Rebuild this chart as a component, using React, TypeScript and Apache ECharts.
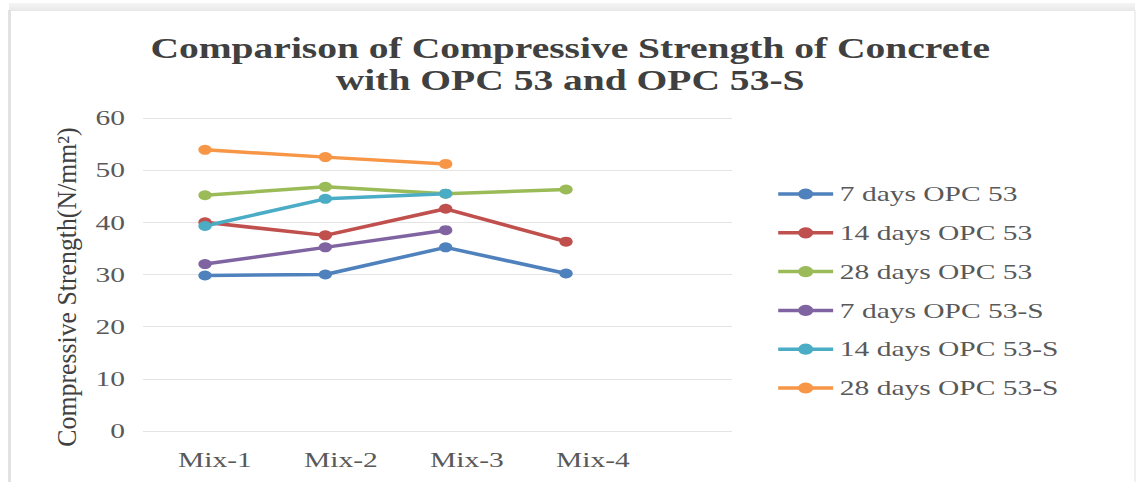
import React, { useEffect, useRef } from "react";
import * as echarts from "echarts";

// Mix designs on the category axis
const categories = ["Mix-1", "Mix-2", "Mix-3", "Mix-4"];

// Compressive strength (N/mm²) per series
const days7Opc53 = [29.8, 30.0, 35.2, 30.2];
const days14Opc53 = [40.0, 37.5, 42.6, 36.3];
const days28Opc53 = [45.2, 46.8, 45.5, 46.3];
const days7Opc53S = [32.0, 35.2, 38.5, null];
const days14Opc53S = [39.3, 44.5, 45.5, null];
const days28Opc53S = [53.9, 52.5, 51.2, null];

const seriesNames = [
  "7 days OPC 53",
  "14 days OPC 53",
  "28 days OPC 53",
  "7 days OPC 53-S",
  "14 days OPC 53-S",
  "28 days OPC 53-S",
];
const seriesValues = [days7Opc53, days14Opc53, days28Opc53, days7Opc53S, days14Opc53S, days28Opc53S];
const seriesColors = ["#4F81BD", "#C0504D", "#9BBB59", "#8064A2", "#4BACC6", "#F79646"];

// Value axis
const yMin = 0;
const yMax = 60;
const yStep = 10;

const titleText = "Comparison of Compressive Strength of Concrete\nwith OPC 53 and OPC 53-S";
const yAxisTitle = "Compressive Strength(N/mm²)";

const FONT = '"Liberation Serif", "Times New Roman", serif';
const PAGE_W = 1141;
const PAGE_H = 482;
// the whole figure is drawn horizontally widened
const SX = 1.34;
const INNER_W = PAGE_W / SX;

export default function App() {
  const ref = useRef<HTMLDivElement>(null);

  useEffect(() => {
    if (!ref.current) return;
    const chart = echarts.init(ref.current, null, { renderer: "svg" });
    const top = 118;
    const bottom = 51;
    chart.setOption({
      animation: false,
      backgroundColor: "#ffffff",
      title: {
        text: titleText,
        left: "center",
        top: 27,
        textStyle: {
          fontFamily: FONT,
          fontSize: 29.5,
          fontWeight: "bold",
          color: "#404040",
          lineHeight: 32,
        },
      },
      legend: {
        orient: "vertical",
        left: 574,
        top: 177,
        itemWidth: 41,
        itemHeight: 14,
        itemGap: 14.8,
        data: seriesNames,
        lineStyle: { width: 3.5 },
        textStyle: {
          fontFamily: FONT,
          fontSize: 22,
          color: "#595959",
          lineHeight: 24,
        },
      },
      grid: [
        // gridlines and value labels
        { left: 106.7, width: 439.6, top, bottom, outerBoundsMode: "none" },
        // plotted lines
        { left: 108.1, width: 359.2, top, bottom, outerBoundsMode: "none" },
        // category labels
        { left: 113.4, width: 376.1, top, bottom, outerBoundsMode: "none" },
      ],
      xAxis: [
        { gridIndex: 0, type: "category", data: categories, show: false },
        {
          gridIndex: 1,
          type: "category",
          data: categories,
          boundaryGap: true,
          axisLine: { show: false },
          axisTick: { show: false },
          axisLabel: { show: false },
        },
        {
          gridIndex: 2,
          type: "category",
          data: categories,
          axisLine: { show: false },
          axisTick: { show: false },
          splitLine: { show: false },
          axisLabel: {
            margin: 18,
            fontFamily: FONT,
            fontSize: 22,
            color: "#595959",
          },
        },
      ],
      yAxis: [
        {
          gridIndex: 0,
          type: "value",
          min: yMin,
          max: yMax,
          interval: yStep,
          axisLine: { show: false },
          axisTick: { show: false },
          splitLine: { lineStyle: { color: "#e4e4e4", width: 1 } },
          axisLabel: {
            margin: 13.4,
            fontFamily: FONT,
            fontSize: 22,
            color: "#595959",
          },
        },
        { gridIndex: 1, type: "value", min: yMin, max: yMax, interval: yStep, show: false },
        { gridIndex: 2, type: "value", min: yMin, max: yMax, interval: yStep, show: false },
      ],
      graphic: [
        {
          type: "text",
          x: 50,
          y: 287,
          rotation: Math.PI / 2,
          scaleX: 1.29,
          style: {
            text: yAxisTitle,
            fontFamily: FONT,
            fontSize: 20,
            fill: "#404040",
            align: "center",
            verticalAlign: "middle",
          },
        },
      ],
      series: seriesNames.map((name, i) => ({
        name,
        type: "line",
        xAxisIndex: 1,
        yAxisIndex: 1,
        data: seriesValues[i],
        symbol: "circle",
        symbolSize: 10,
        color: seriesColors[i],
        lineStyle: { width: 3.5, color: seriesColors[i] },
        itemStyle: { color: seriesColors[i] },
      })),
    });
    return () => chart.dispose();
  }, []);

  return (
    <div
      style={{
        position: "fixed",
        left: 0,
        top: 0,
        width: PAGE_W,
        height: PAGE_H,
        overflow: "hidden",
        background: "#ffffff",
      }}
    >
      <div
        ref={ref}
        style={{
          position: "absolute",
          left: 0,
          top: 0,
          width: INNER_W,
          height: PAGE_H,
          transform: `scaleX(${SX})`,
          transformOrigin: "0 0",
        }}
      />
      {/* frame edges */}
      <div style={{ position: "absolute", left: 9, right: 6, top: 3, height: 8, background: "linear-gradient(#f5f5f5, #e8e8e8)" }} />
      <div style={{ position: "absolute", left: 8, top: 10, width: 3, bottom: 0, background: "#e2e2e2" }} />
      <div style={{ position: "absolute", left: 1134, top: 10, width: 2, bottom: 0, background: "#f0f0f0" }} />
    </div>
  );
}
